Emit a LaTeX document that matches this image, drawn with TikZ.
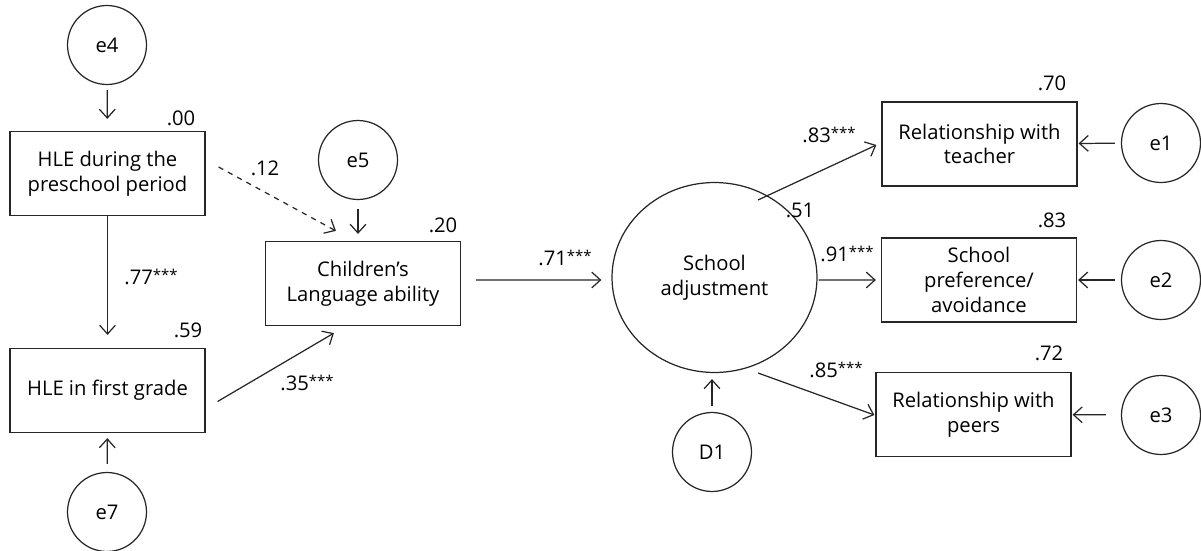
\documentclass[tikz,border=0pt]{standalone}
\usepackage{fontspec}
\setmainfont{Open Sans}
\usetikzlibrary{arrows.meta,calc,shapes.geometric}
\newcommand{\lab}{\fontsize{11.5}{14}\selectfont}
\newcommand{\sigstars}{\raisebox{0.35ex}{\fontsize{8.5}{8.5}\selectfont***}}
\begin{document}
\begin{tikzpicture}[x=0.02cm,y=-0.02cm,
  ln/.style={line width=0.7pt, draw=black!85},
  box/.style={ln, draw, rectangle, minimum width=3.9cm, minimum height=1.68cm, align=center, font=\lab, inner sep=0pt},
  err/.style={ln, draw, circle, minimum size=1.58cm, inner sep=0pt, font=\lab},
  lat/.style={ln, draw, ellipse, minimum width=4.1cm, minimum height=3.8cm, inner sep=0pt, align=center, font=\lab},
  coef/.style={font=\lab, inner sep=0pt},
  arr/.style={ln, -{Straight Barb[length=5pt,width=9pt]}}]
\useasboundingbox (0,0) rectangle (1201,551);
% nodes
\node[err] (e4) at (107,45) {e4};
\node[box] (pre) at (107.5,173.5) {HLE during the\\preschool period};
\node[box] (first) at (107.5,390.5) {HLE in first grade};
\node[err] (e7) at (107,512) {e7};
\node[err] (e5) at (358,160) {e5};
\node[box] (lang) at (363,283.5) {Children’s\\Language ability};
\node[lat] (sa) at (714.5,277.5) {School\\adjustment};
\node[err] (D1) at (712,452) {D1};
\node[box] (teach) at (979.5,144) {Relationship with\\teacher};
\node[box] (pref) at (979,280) {School\\preference/\\avoidance};
\node[box] (peer) at (973.5,414.5) {Relationship with\\peers};
\node[err] (e1) at (1161,143) {e1};
\node[err] (e2) at (1161,280) {e2};
\node[err] (e3) at (1161,415) {e3};
% coefficients
\node[coef] (c00) at (181,118) {.00};
\node[coef] (c59) at (188,330) {.59};
\node[coef] (c77) at (151,277) {.77\sigstars};
\node[coef] (c12) at (265,168) {.12};
\node[coef] (c20) at (443,225) {.20};
\node[coef] (c35) at (307,383) {.35\sigstars};
\node[coef] (c71) at (565,258) {.71\sigstars};
\node[coef] (c51) at (800,210) {.51};
\node[coef] (c83a) at (829,135) {.83\sigstars};
\node[coef] (c91) at (847,254) {.91\sigstars};
\node[coef] (c85) at (836,370) {.85\sigstars};
\node[coef] (c70) at (1052,83) {.70};
\node[coef] (c83) at (1052,220) {.83};
\node[coef] (c72) at (1049,353) {.72};
% connectors
\draw[arr, shorten <=0.1cm, shorten >=0.24cm] (e4) -- (pre);
\draw[arr, shorten >=0.26cm] (pre) -- (first);
\draw[arr, shorten <=0.16cm, shorten >=0.1cm] (e7) -- (first);
\draw[arr, shorten <=0.18cm, shorten >=0.14cm] (e5) -- (lang.north -| e5);
\draw[arr, dashed] ($(pre.east)+(13,-6.5)$) -- ($(lang.north west)+(71,-10)$);
\draw[arr] ($(first.east)+(12,11)$) -- ($(lang.south west)+(69,7)$);
\draw[arr] ($(lang.east)+(15,-3.5)$) -- ($(sa.west)+(-10,2.5)$);
\draw[arr, shorten <=0.12cm, shorten >=0.12cm] (D1.north) -- (D1.north |- sa.south);
\draw[arr] ($(sa.center)+(43.5,-77.5)$) -- ($(teach.west)+(-5,1)$);
\draw[arr] ($(sa.east)+(1,2.5)$) -- ($(pref.west)+(-5,0)$);
\draw[arr] ($(sa.center)+(43.5,95.5)$) -- ($(peer.west)+(-1,0.5)$);
\draw[arr, shorten <=0.12cm, shorten >=0.02cm] (e1) -- (teach);
\draw[arr, shorten <=0.12cm, shorten >=0.02cm] (e2) -- (pref);
\draw[arr, shorten <=0.3cm, shorten >=0.02cm] (e3) -- (peer);
\end{tikzpicture}
\end{document}
